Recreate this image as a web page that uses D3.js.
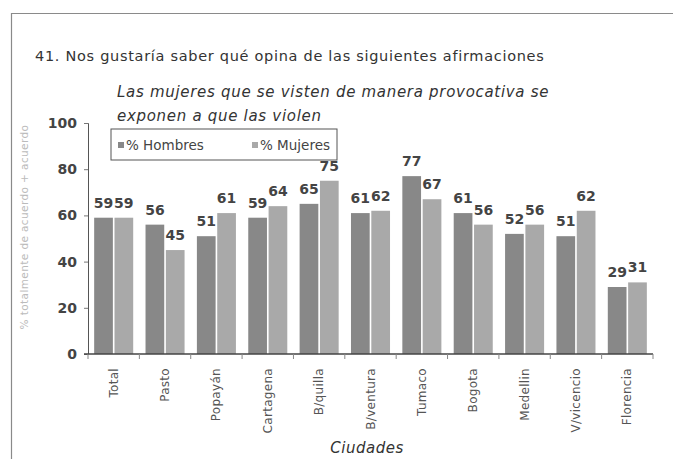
<!DOCTYPE html>
<html>
<head>
<meta charset="utf-8">
<script src="https://cdn.jsdelivr.net/npm/d3@7"></script>
<style>
  body { margin: 0; background: #fff; }
  svg { display: block; font-family: "DejaVu Sans", sans-serif; }
</style>
</head>
<body>
<svg id="chart" width="673" height="459"></svg>
<script>
var ciudades = ["Total", "Pasto", "Popayán", "Cartagena", "B/quilla", "B/ventura", "Tumaco", "Bogota", "Medellin", "V/vicencio", "Florencia"];
var hombres = [59, 56, 51, 59, 65, 61, 77, 61, 52, 51, 29];
var mujeres = [59, 45, 61, 64, 75, 62, 67, 56, 56, 62, 31];
var series = ["% Hombres", "% Mujeres"];
var yTicks = [0, 20, 40, 60, 80, 100];

var colores = ["#888888", "#a9a9a9"];

var margin = {top: 123, left: 88},
    width = 565,
    height = 231;

var svg = d3.select("#chart");

// marco de la pagina
svg.append("line")
    .attr("x1", 11).attr("x2", 673).attr("y1", 13.5).attr("y2", 13.5)
    .attr("stroke", "#8a8a8a").attr("stroke-width", 1.2);
svg.append("line")
    .attr("x1", 11.5).attr("x2", 11.5).attr("y1", 13).attr("y2", 459)
    .attr("stroke", "#8a8a8a").attr("stroke-width", 1.2);

svg.append("text")
    .attr("x", 35).attr("y", 61)
    .attr("font-size", 14.5).attr("letter-spacing", 0.7).attr("fill", "#333")
    .text("41. Nos gustaría saber  qué opina de las siguientes afirmaciones");

svg.append("text")
    .attr("x", 117).attr("y", 97)
    .attr("font-size", 15).attr("letter-spacing", 0.7)
    .attr("font-style", "italic").attr("fill", "#333")
    .text("Las mujeres que se visten de manera provocativa se");
svg.append("text")
    .attr("x", 117).attr("y", 121)
    .attr("font-size", 15).attr("letter-spacing", 0.7)
    .attr("font-style", "italic").attr("fill", "#333")
    .text("exponen a que las violen");

var g = svg.append("g")
    .attr("transform", "translate(" + margin.left + "," + margin.top + ")");

var x0 = d3.scaleBand()
    .domain(ciudades)
    .range([0, width])
    .paddingInner(0.24)
    .paddingOuter(0.12);

var x1 = d3.scaleBand()
    .domain(series)
    .range([0, x0.bandwidth()])
    .paddingInner(0.08);

var y = d3.scaleLinear()
    .domain([0, 100])
    .range([height, 0]);

var datos = ciudades.map(function(c, i) {
  return {ciudad: c, valores: [
    {serie: series[0], v: hombres[i]},
    {serie: series[1], v: mujeres[i]}
  ]};
});

var grupos = g.selectAll(".grupo")
    .data(datos)
  .enter().append("g")
    .attr("class", "grupo")
    .attr("transform", function(d) { return "translate(" + x0(d.ciudad) + ",0)"; });

grupos.selectAll("rect")
    .data(function(d) { return d.valores; })
  .enter().append("rect")
    .attr("x", function(d) { return x1(d.serie); })
    .attr("y", function(d) { return y(d.v); })
    .attr("width", x1.bandwidth())
    .attr("height", function(d) { return height - y(d.v); })
    .attr("fill", function(d, i) { return colores[i]; });

grupos.selectAll(".etiqueta")
    .data(function(d) { return d.valores; })
  .enter().append("text")
    .attr("class", "etiqueta")
    .attr("x", function(d) { return x1(d.serie) + x1.bandwidth() / 2; })
    .attr("y", function(d) { return y(d.v) - 10; })
    .attr("text-anchor", "middle")
    .attr("font-size", 14).attr("font-weight", "bold").attr("fill", "#444")
    .text(function(d) { return d.v; });

// eje y
var ejeY = g.append("g")
    .call(d3.axisLeft(y).tickValues(yTicks).tickSize(4).tickPadding(7));
ejeY.select(".domain").attr("stroke", "#555");
ejeY.selectAll(".tick line").attr("stroke", "#777");
ejeY.selectAll("text")
    .attr("font-size", 14).attr("font-weight", "bold").attr("fill", "#444")
    .attr("font-family", "DejaVu Sans, sans-serif");

// eje x con marcas entre ciudades
var ejeX = g.append("g")
    .attr("transform", "translate(0," + height + ")");
ejeX.append("line")
    .attr("x1", -4).attr("x2", width)
    .attr("stroke", "#444").attr("stroke-width", 1.5);
var bordes = [0].concat(ciudades.map(function(c) {
  return x0(c) + x0.bandwidth() + x0.step() * x0.paddingInner() / 2;
}));
ejeX.selectAll(".marca")
    .data(bordes)
  .enter().append("line")
    .attr("class", "marca")
    .attr("x1", function(d) { return d; }).attr("x2", function(d) { return d; })
    .attr("y1", 0).attr("y2", 5)
    .attr("stroke", "#888");

ejeX.selectAll(".nombre")
    .data(ciudades)
  .enter().append("text")
    .attr("class", "nombre")
    .attr("transform", function(d) {
      return "translate(" + (x0(d) + x0.bandwidth() / 2 + 4) + ",14) rotate(-90)";
    })
    .attr("text-anchor", "end")
    .attr("font-size", 12).attr("letter-spacing", 0.3).attr("fill", "#555")
    .text(function(d) { return d; });

svg.append("text")
    .attr("transform", "translate(28," + (margin.top + 104) + ") rotate(-90)")
    .attr("text-anchor", "middle")
    .attr("font-size", 10.5).attr("letter-spacing", 0.4).attr("fill", "#bbb")
    .text("% totalmente de acuerdo + acuerdo");

svg.append("text")
    .attr("x", 367).attr("y", 453)
    .attr("text-anchor", "middle")
    .attr("font-size", 15).attr("letter-spacing", 0.5)
    .attr("font-style", "italic").attr("fill", "#333")
    .text("Ciudades");

// leyenda
var ley = svg.append("g").attr("transform", "translate(111,129)");
ley.append("rect")
    .attr("width", 226).attr("height", 31)
    .attr("fill", "#fff").attr("stroke", "#555");
var items = ley.selectAll(".item")
    .data(series)
  .enter().append("g")
    .attr("class", "item")
    .attr("transform", function(d, i) { return "translate(" + (7 + i * 134) + ",0)"; });
items.append("rect")
    .attr("y", 13).attr("width", 6).attr("height", 6)
    .attr("fill", function(d, i) { return colores[i]; });
items.append("text")
    .attr("x", 8).attr("y", 21)
    .attr("font-size", 13.5).attr("fill", "#444")
    .text(function(d) { return d; });
</script>
</body>
</html>
